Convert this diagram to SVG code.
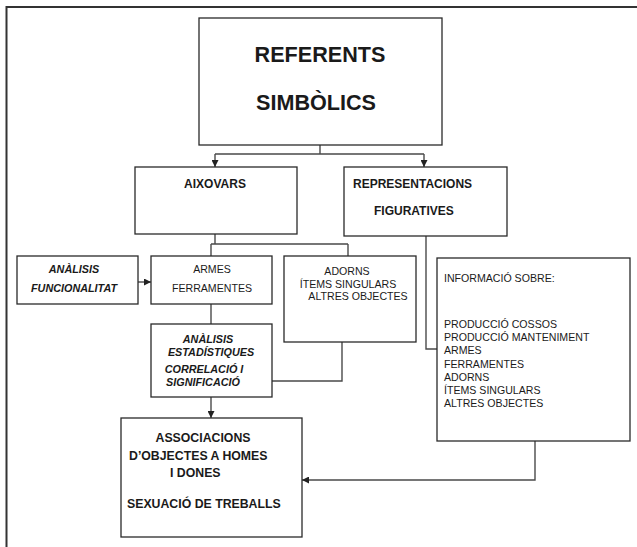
<svg xmlns="http://www.w3.org/2000/svg" width="637" height="547" viewBox="0 0 637 547">
<defs>
<marker id="ah" viewBox="0 0 10 10" refX="10" refY="5" markerWidth="7" markerHeight="7" markerUnits="userSpaceOnUse" orient="auto">
<path d="M0,0 L10,5 L0,10 z" fill="#222"/>
</marker>
</defs>
<style>
.box{fill:#fff;stroke:#2a2a2a;stroke-width:1.3}
.ln{fill:none;stroke:#4a4a4a;stroke-width:1.4}
text{font-family:"Liberation Sans",Arial,sans-serif;fill:#1a1a1a}
.b{font-weight:bold}
.bi{font-weight:bold;font-style:italic}
.r{font-size:10.6px}
.m{text-anchor:middle}
</style>
<rect width="637" height="547" fill="#fff"/>
<path d="M6.5,547 V7 H637" fill="none" stroke="#333" stroke-width="2"/>
<g id="connectors">
<path class="ln" d="M320,145 V154 M215,154 H424"/>
<path class="ln" d="M215,154 L215,167" marker-end="url(#ah)"/>
<path class="ln" d="M424,154 L424,167" marker-end="url(#ah)"/>
<path class="ln" d="M215,234 V244 M211,244 H348 M211,244 V256 M348,244 V256"/>
<path class="ln" d="M138,282 H151" marker-end="url(#ah)"/>
<path class="ln" d="M211,304 V324"/>
<path class="ln" d="M342,342 V381 H272"/>
<path class="ln" d="M211,397 V418" marker-end="url(#ah)"/>
<path class="ln" d="M426,236 V349 H437"/>
<path class="ln" d="M535,441 V480 H302" marker-end="url(#ah)"/>
</g>
<g id="referents">
<rect class="box" x="199" y="18" width="243" height="127"/>
<text class="b m" x="320" y="62" font-size="21.6">REFERENTS</text>
<text class="b m" x="316" y="110" font-size="21.6">SIMBÒLICS</text>
</g>
<g id="aixovars">
<rect class="box" x="135" y="167" width="162" height="67"/>
<text class="b m" x="215" y="188" font-size="12">AIXOVARS</text>
</g>
<g id="representacions">
<rect class="box" x="344" y="167" width="163" height="69"/>
<text class="b" x="353" y="188" font-size="12">REPRESENTACIONS</text>
<text class="b" x="374" y="215" font-size="12">FIGURATIVES</text>
</g>
<g id="analisis-funcionalitat">
<rect class="box" x="17" y="256" width="121" height="48"/>
<text class="bi m" x="74" y="273" font-size="10.8">ANÀLISIS</text>
<text class="bi m" x="74" y="292" font-size="10.8">FUNCIONALITAT</text>
</g>
<g id="armes">
<rect class="box" x="151" y="256" width="121" height="48"/>
<text class="r m" x="212" y="273">ARMES</text>
<text class="r m" x="212" y="292">FERRAMENTES</text>
</g>
<g id="adorns">
<rect class="box" x="284" y="256" width="132" height="86"/>
<text class="r m" x="347" y="275">ADORNS</text>
<text class="r m" x="348" y="288">ÍTEMS SINGULARS</text>
<text class="r m" x="358" y="300">ALTRES OBJECTES</text>
</g>
<g id="analisis-estadistiques">
<rect class="box" x="151" y="324" width="121" height="73"/>
<text class="bi m" x="208" y="343" font-size="10.8">ANÀLISIS</text>
<text class="bi m" x="211" y="356" font-size="10.8">ESTADÍSTIQUES</text>
<text class="bi m" x="204" y="373" font-size="10.8">CORRELACIÓ I</text>
<text class="bi m" x="203" y="386" font-size="10.8">SIGNIFICACIÓ</text>
</g>
<g id="informacio">
<rect class="box" x="437" y="258" width="193" height="183"/>
<text class="r" x="444" y="282">INFORMACIÓ SOBRE:</text>
<text class="r" x="444" y="328">PRODUCCIÓ COSSOS</text>
<text class="r" x="444" y="341">PRODUCCIÓ MANTENIMENT</text>
<text class="r" x="444" y="354">ARMES</text>
<text class="r" x="444" y="367.5">FERRAMENTES</text>
<text class="r" x="444" y="381">ADORNS</text>
<text class="r" x="444" y="394">ÍTEMS SINGULARS</text>
<text class="r" x="444" y="407">ALTRES OBJECTES</text>
</g>
<g id="associacions">
<rect class="box" x="121" y="418" width="181" height="119"/>
<text class="b m" x="203" y="442" font-size="12.3">ASSOCIACIONS</text>
<text class="b" x="129" y="460" font-size="12.3">D’OBJECTES A HOMES</text>
<text class="b" x="170" y="477" font-size="12.3">I DONES</text>
<text class="b" x="127" y="508" font-size="12.3">SEXUACIÓ DE TREBALLS</text>
</g>
</svg>
